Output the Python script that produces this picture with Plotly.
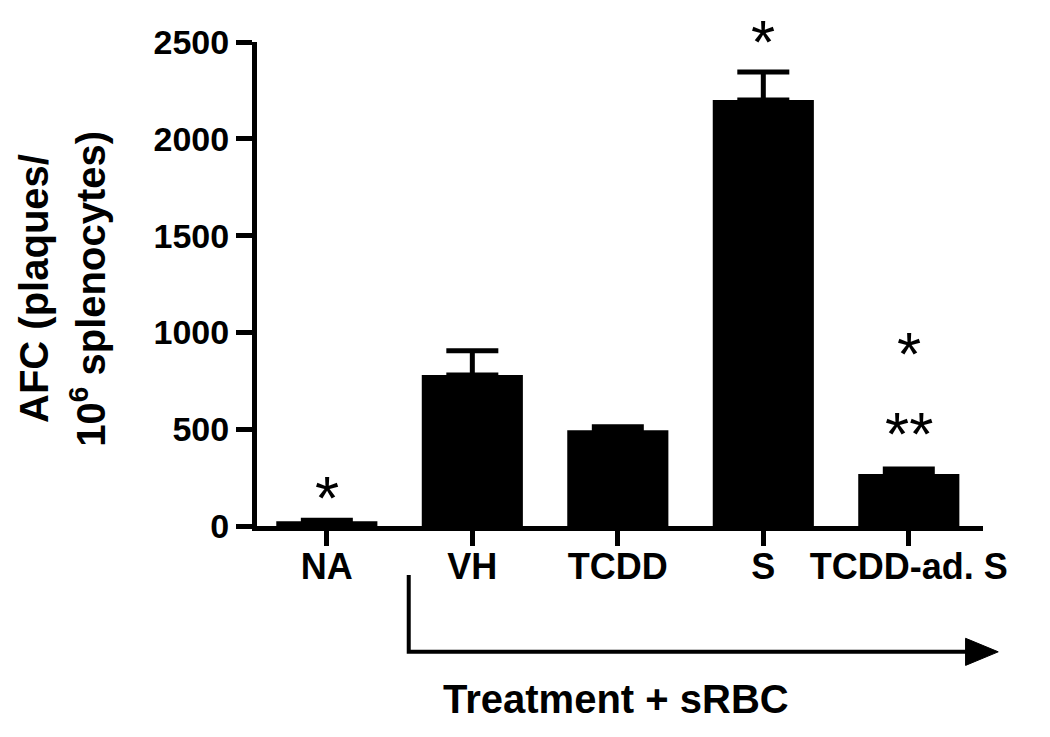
import plotly.graph_objects as go

# data
groups = ["NA", "VH", "TCDD", "S", "TCDD-ad. S"]
afc_mean = [25, 780, 495, 2200, 268]
afc_sem = [5, 125, 18, 145, 27]

# significance marks above the bars
star_labels = ["*", "*", "**", "*"]
star_groups = ["NA", "S", "TCDD-ad. S", "TCDD-ad. S"]
star_heights = [186, 2545, 521, 934]

y_ticks = [0, 500, 1000, 1500, 2000, 2500]
y_max = 2500

FONT = "Arial, Liberation Sans, sans-serif"

fig = go.Figure()

fig.add_trace(go.Bar(
    x=groups,
    y=afc_mean,
    width=0.695,
    marker=dict(color="black", line=dict(width=0)),
    error_y=dict(
        type="data",
        symmetric=False,
        array=afc_sem,
        arrayminus=[0] * len(afc_sem),
        color="black",
        thickness=5,
        width=26,
    ),
    showlegend=False,
))

# stars (paper y so the one above the top of the axis still shows)
for lab, grp, h in zip(star_labels, star_groups, star_heights):
    fig.add_annotation(
        x=grp, y=h / y_max, xref="x", yref="paper",
        text=lab, showarrow=False,
        font=dict(family=FONT, size=62, color="black"),
        xanchor="center", yanchor="middle", yshift=-8,
    )

# y axis title, two lines
fig.add_annotation(
    x=-0.307, y=0.49, xref="paper", yref="paper",
    text="AFC (plaques/", textangle=-90, showarrow=False,
    font=dict(family=FONT, size=40, color="black", weight="bold"),
    xanchor="center", yanchor="middle",
)
fig.add_annotation(
    x=-0.233, y=0.49, xref="paper", yref="paper",
    text="10<sup>6</sup> splenocytes)", textangle=-90, showarrow=False,
    font=dict(family=FONT, size=40, color="black", weight="bold"),
    xanchor="center", yanchor="middle",
)

# treatment arrow
fig.add_shape(
    type="path", xref="paper", yref="paper",
    path="M 0.209 -0.101 L 0.209 -0.260 L 0.98 -0.260",
    line=dict(color="black", width=4),
)
fig.add_shape(
    type="path", xref="paper", yref="paper",
    path="M 0.976 -0.232 L 1.021 -0.260 L 0.976 -0.288 Z",
    fillcolor="black", line=dict(color="black", width=1),
)
fig.add_annotation(
    x=0.494, y=-0.357, xref="paper", yref="paper",
    text="Treatment + sRBC", showarrow=False,
    font=dict(family=FONT, size=40, color="black", weight="bold"),
    xanchor="center", yanchor="middle",
)

# page body adds 8px, so the figure is 8px smaller than the window
fig.update_layout(
    width=1042, height=729,
    paper_bgcolor="white", plot_bgcolor="white",
    margin=dict(l=249, r=67, t=34, b=211),
    font=dict(family=FONT, color="black"),
)

fig.update_xaxes(
    range=[-0.48, 4.51],
    showline=True, linecolor="black", linewidth=5,
    ticks="outside", ticklen=15, tickwidth=5, tickcolor="black",
    tickfont=dict(family=FONT, size=36, color="black", weight="bold"),
    ticklabelstandoff=-10,
    showgrid=False, zeroline=False, automargin=False,
)
fig.update_yaxes(
    range=[0, y_max],
    tickvals=y_ticks,
    showline=True, linecolor="black", linewidth=5,
    ticks="outside", ticklen=16, tickwidth=5, tickcolor="black",
    tickfont=dict(family=FONT, size=34, color="black", weight="bold"),
    showgrid=False, zeroline=False, automargin=False,
)

fig.write_html("out.html")
